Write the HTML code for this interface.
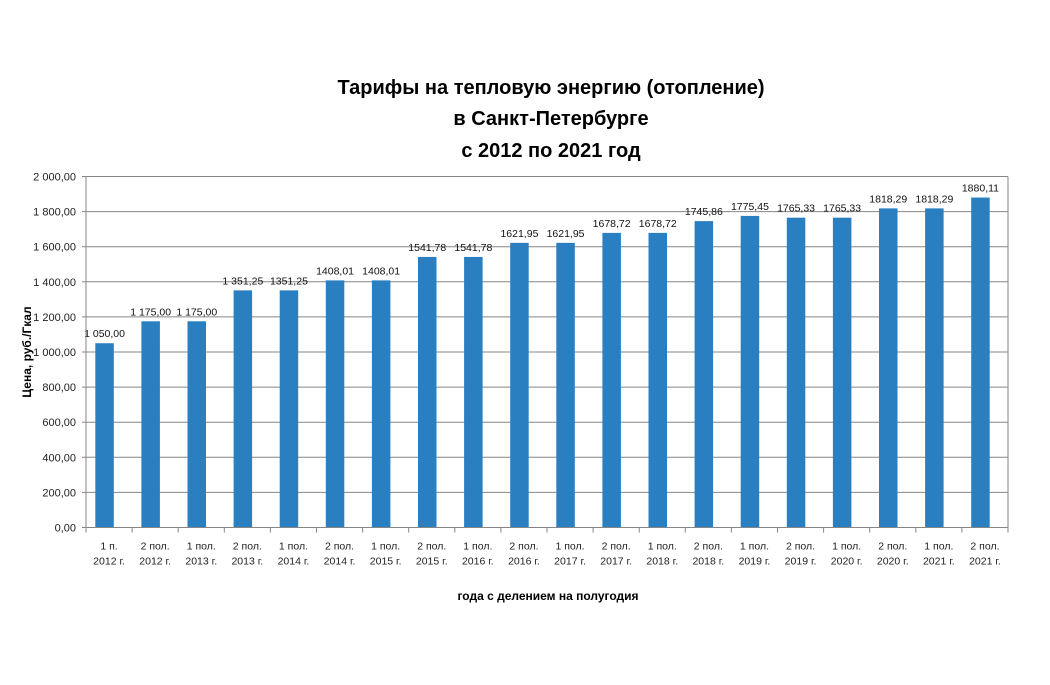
<!DOCTYPE html>
<html><head><meta charset="utf-8"><style>
body{margin:0;background:#fff;font-family:"Liberation Sans","DejaVu Sans",sans-serif}
</style></head><body>
<svg id="c" width="1050" height="680" xmlns="http://www.w3.org/2000/svg">
<g font-weight="bold" font-size="20" text-anchor="middle" fill="#000">
<text x="551" y="94">Тарифы на тепловую энергию (отопление)</text>
<text x="551" y="125">в Санкт-Петербурге</text>
<text x="551" y="157">с 2012 по 2021 год</text>
</g>
<text transform="translate(31,352) rotate(-90)" text-anchor="middle" font-size="12" font-weight="bold">Цена, руб./Гкал</text>
<text x="548" y="600" text-anchor="middle" font-size="12" font-weight="bold">года с делением на полугодия</text>
<g id="grid"></g><g id="bars"></g><g id="labels"></g><g id="axes"></g>
</svg>
<script>
const cats1=["1 п.","2 пол.","1 пол.","2 пол.","1 пол.","2 пол.","1 пол.","2 пол.","1 пол.","2 пол.","1 пол.","2 пол.","1 пол.","2 пол.","1 пол.","2 пол.","1 пол.","2 пол.","1 пол.","2 пол."];
const cats2=["2012 г.","2012 г.","2013 г.","2013 г.","2014 г.","2014 г.","2015 г.","2015 г.","2016 г.","2016 г.","2017 г.","2017 г.","2018 г.","2018 г.","2019 г.","2019 г.","2020 г.","2020 г.","2021 г.","2021 г."];
const values=[1050,1175,1175,1351.25,1351.25,1408.01,1408.01,1541.78,1541.78,1621.95,1621.95,1678.72,1678.72,1745.86,1775.45,1765.33,1765.33,1818.29,1818.29,1880.11];
const valueLabels=["1 050,00","1 175,00","1 175,00","1 351,25","1351,25","1408,01","1408,01","1541,78","1541,78","1621,95","1621,95","1678,72","1678,72","1745,86","1775,45","1765,33","1765,33","1818,29","1818,29","1880,11"];
const yTicks=[0,200,400,600,800,1000,1200,1400,1600,1800,2000];
const yTickLabels=["0,00","200,00","400,00","600,00","800,00","1 000,00","1 200,00","1 400,00","1 600,00","1 800,00","2 000,00"];
</script>
<script>
const NS="http://www.w3.org/2000/svg";
const X0=86,X1=1008,Y0=527.5,Y1=176.5,YMAX=2000;
const n=values.length,cw=(X1-X0)/n;
const y=v=>Y0-(v/YMAX)*(Y0-Y1);
const xc=i=>X0+cw*(i+0.5)-4.5;
function mk(t,a,p){const e=document.createElementNS(NS,t);for(const k in a)e.setAttribute(k,a[k]);p.appendChild(e);return e;}
const grid=document.getElementById('grid'),bars=document.getElementById('bars'),labels=document.getElementById('labels'),axes=document.getElementById('axes');
yTicks.forEach((t,i)=>{
 const l=mk('line',{x1:X0,x2:X1,y1:y(t),y2:y(t),stroke:'#868686','stroke-width':1},grid);
 
 
 const tx=mk('text',{x:X0-10,y:y(t)+4,'text-anchor':'end','font-size':11,fill:'#222'},axes);
 tx.textContent=yTickLabels[i];
 
 
 mk('line',{x1:X0-4,x2:X0,y1:y(t),y2:y(t),stroke:'#868686'},axes);
});
mk('line',{x1:X0,x2:X0,y1:Y1,y2:Y0,stroke:'#868686'},axes);
mk('line',{x1:X1,x2:X1,y1:Y1,y2:Y0,stroke:'#868686'},axes);
mk('line',{x1:X0,x2:X1,y1:Y0,y2:Y0,stroke:'#868686'},axes);
values.forEach((v,i)=>{
 const r=mk('rect',{x:xc(i)-9.25,y:y(v),width:18.5,height:Y0-y(v),fill:'#2a7fc1'},bars);
 
 
 const t=mk('text',{x:xc(i),y:y(v)-6,'text-anchor':'middle','font-size':10.5,fill:'#111'},labels);
 t.textContent=valueLabels[i];
 
 
 mk('line',{x1:X0+cw*(i+1),x2:X0+cw*(i+1),y1:Y0,y2:Y0+5,stroke:'#868686'},axes);
 const a=mk('text',{x:X0+cw*(i+0.5),y:Y0+22,'text-anchor':'middle','font-size':10.5,fill:'#222'},axes);
 a.textContent=cats1[i];
 
 
 const b=mk('text',{x:X0+cw*(i+0.5),y:Y0+37,'text-anchor':'middle','font-size':10.5,fill:'#222'},axes);
 b.textContent=cats2[i];
 
 
});
mk('line',{x1:X0,x2:X0,y1:Y0,y2:Y0+5,stroke:'#868686'},axes);
</script>
</body></html>
